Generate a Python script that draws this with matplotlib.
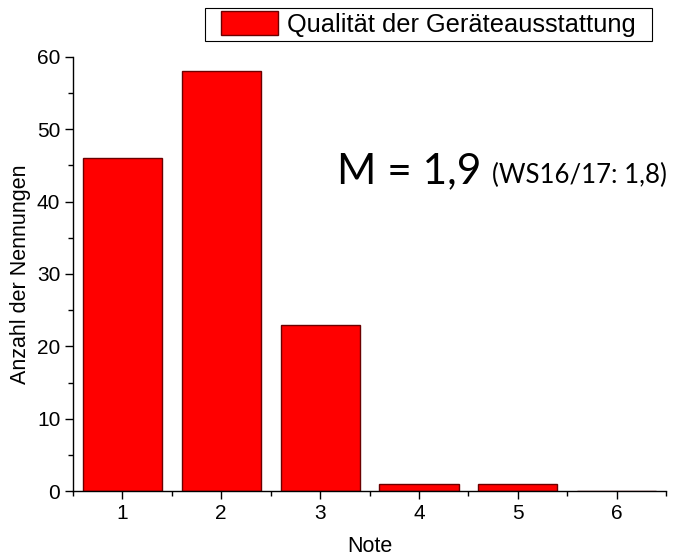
import matplotlib.pyplot as plt
from matplotlib.patches import Rectangle
from matplotlib.ticker import MultipleLocator

plt.rcParams['font.family'] = ['Liberation Sans', 'DejaVu Sans']

notes = [1, 2, 3, 4, 5, 6]
counts = [46, 58, 23, 1, 1, 0]
series_label = "Qualität der Geräteausstattung"
x_label = "Note"
y_label = "Anzahl der Nennungen"
mean_text = "M = 1,9"
prev_text = "(WS16/17: 1,8)"

W, H = 694, 558
fig = plt.figure(figsize=(W / 100, H / 100), dpi=100)
ax = fig.add_axes([0.105, 0.12, 0.855, 0.778])

bars = ax.bar(notes, counts, width=0.8, color="#ff0000", edgecolor="#6b0000",
              linewidth=1.0, label=series_label)

ax.set_xlim(0.5, 6.5)
ax.set_ylim(0, 60)
ax.set_xticks(notes)
ax.xaxis.set_minor_locator(MultipleLocator(0.5))
ax.yaxis.set_major_locator(MultipleLocator(10))
ax.yaxis.set_minor_locator(MultipleLocator(5))

for side in ("top", "right"):
    ax.spines[side].set_visible(False)
for side in ("left", "bottom"):
    ax.spines[side].set_linewidth(1.0)

ax.tick_params(which="major", direction="out", length=6, width=1, labelsize=15, pad=3)
ax.tick_params(which="minor", direction="out", length=3.5, width=1)

ax.set_xlabel(x_label, fontsize=15.5, labelpad=10)
ax.set_ylabel(y_label, fontsize=15.5, labelpad=4)

fig.text(0.485, 0.672, mean_text, fontsize=30.5, family="Lato", va="baseline")
fig.text(0.709, 0.672, prev_text, fontsize=18.5, family="Lato", va="baseline")

# legend without its own frame; the box is drawn separately (wider side padding)
leg = fig.legend(loc="upper left", bbox_to_anchor=(221 / W, 1 - 11 / H), fontsize=18.3,
                 frameon=False, handlelength=2.24, handleheight=1.06,
                 handletextpad=0.35, borderpad=0, borderaxespad=0)
fig.patches.append(Rectangle((205 / W, 1 - 41 / H), 447 / W, 33 / H,
                             transform=fig.transFigure, fill=False,
                             edgecolor="black", linewidth=0.8))

fig.savefig("out.png", dpi=100)
